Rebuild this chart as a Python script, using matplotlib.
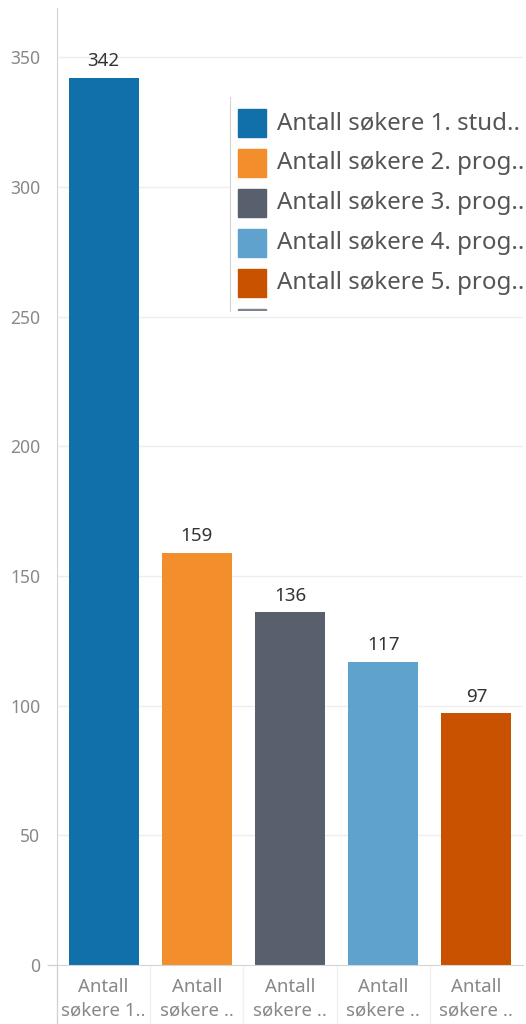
import numpy as np
import matplotlib
matplotlib.use('Agg')
import matplotlib.pyplot as plt
from matplotlib.patches import Rectangle

plt.rcParams['font.family'] = ['Noto Sans', 'DejaVu Sans']

# data
categories = ['Antall\nsøkere 1..', 'Antall\nsøkere ..', 'Antall\nsøkere ..',
              'Antall\nsøkere ..', 'Antall\nsøkere ..']
values = [342, 159, 136, 117, 97]
colors = ['#1170aa', '#f28e2b', '#57606c', '#5fa2ce', '#c85200']
legend_labels = ['Antall søkere 1. stud..', 'Antall søkere 2. prog..',
                 'Antall søkere 3. prog..', 'Antall søkere 4. prog..',
                 'Antall søkere 5. prog..', 'Antall søkere 6. prog..']
legend_colors = colors + ['#7b848f']
yticks = [0, 50, 100, 150, 200, 250, 300, 350]

W, H = 526, 1024
fig = plt.figure(figsize=(W / 100, H / 100), dpi=100)
ax = fig.add_axes([57 / W, 1 - 965 / H, 466 / W, 957 / H])

x = np.arange(len(values))
ax.bar(x, values, width=0.75, color=colors, zorder=2)
for xi, v in zip(x, values):
    ax.text(xi, v + 3, str(v), ha='center', va='bottom', fontsize=13.5, color='#333333')

ax.set_xlim(-0.5, len(values) - 0.5)
ax.set_ylim(0, 369)
ax.set_yticks(yticks)
ax.set_yticklabels([str(t) for t in yticks], fontsize=12.6, color='#888888')
ax.tick_params(axis='y', length=0, pad=12)
for t in yticks[1:]:
    ax.axhline(t, color='#eeeeee', lw=1, zorder=0)

ax.set_xticks(x)
ax.set_xticklabels(categories, fontsize=13.4, color='#888888', linespacing=1.45)
ax.tick_params(axis='x', length=0, pad=9)

for s in ['top', 'right']:
    ax.spines[s].set_visible(False)
ax.spines['left'].set_color('#d4d4d4')
ax.spines['bottom'].set_color('#d4d4d4')
ax.plot([-0.02, 0], [0, 0], transform=ax.transAxes, color='#d4d4d4', lw=1, clip_on=False)
ax.plot([0, 0], [-0.07, 0], transform=ax.transAxes, color='#d4d4d4', lw=1, clip_on=False)
for b in np.arange(0.5, len(values) - 0.5):
    ax.plot([b, b], [-0.07, 0], transform=ax.get_xaxis_transform(), color='#f0f0f0',
            lw=1, clip_on=False)

# legend box (cut off at the bottom like the original)
lg = fig.add_axes([230 / W, 1 - 311 / H, 296 / W, 214 / H])
lg.set_xlim(0, 296)
lg.set_ylim(214, 0)
lg.set_facecolor('white')
lg.set_xticks([])
lg.set_yticks([])
for s in ['top', 'right', 'bottom']:
    lg.spines[s].set_visible(False)
lg.spines['left'].set_color('#d4d4d4')
for i, (lab, c) in enumerate(zip(legend_labels, legend_colors)):
    lg.add_patch(Rectangle((8, 12 + 40 * i), 28, 28, color=c))
    lg.text(47, 26 + 40 * i, lab, va='center', ha='left', fontsize=17.3,
            color='#555555', clip_on=True)

fig.savefig('out.png', dpi=100)
